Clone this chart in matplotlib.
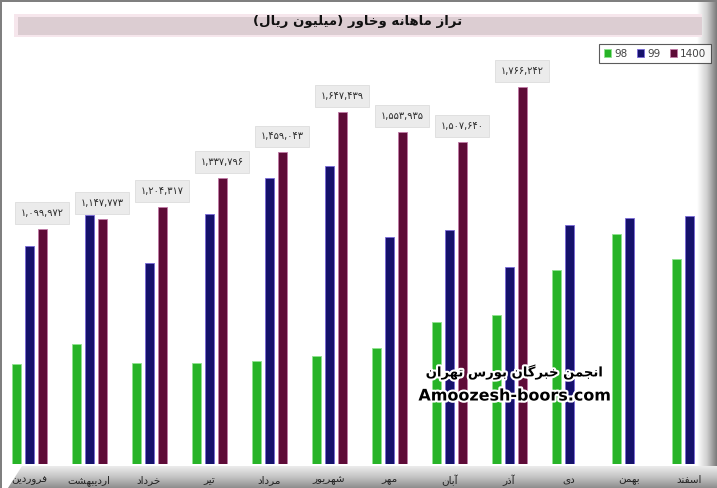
import numpy as np
import matplotlib
matplotlib.use('Agg')
import matplotlib.pyplot as plt
from matplotlib.patches import Polygon, Rectangle
import matplotlib.patheffects as pe
from matplotlib.colors import LinearSegmentedColormap

# ---------------- data ----------------
months = ['فروردین', 'اردیبهشت', 'خرداد', 'تیر', 'مرداد', 'شهریور',
          'مهر', 'آبان', 'آذر', 'دی', 'بهمن', 'اسفند']
s98 = [467000, 560000, 471000, 471000, 481000, 504000,
       542000, 664000, 696000, 907000, 1078000, 959000]
s99 = [1020000, 1165000, 940000, 1170000, 1339000, 1395000,
       1062000, 1094000, 922000, 1118000, 1151000, 1161000]
s1400 = [1099972, 1147773, 1204317, 1337796, 1459043, 1647439,
         1553935, 1507640, 1766242]
series_names = ['98', '99', '1400']
title = 'تراز ماهانه وخاور (میلیون ریال)'
wm1 = 'انجمن خبرگان بورس تهران'
wm2 = 'Amoozesh-boors.com'

# ---------------- minimal Persian shaping ----------------
FORMS = {
    'ا': ('\uFE8D', '\uFE8E', None, None),
    'آ': ('\uFE81', '\uFE82', None, None),
    'ب': ('\uFE8F', '\uFE90', '\uFE91', '\uFE92'),
    'پ': ('\uFB56', '\uFB57', '\uFB58', '\uFB59'),
    'ت': ('\uFE95', '\uFE96', '\uFE97', '\uFE98'),
    'ث': ('\uFE99', '\uFE9A', '\uFE9B', '\uFE9C'),
    'ج': ('\uFE9D', '\uFE9E', '\uFE9F', '\uFEA0'),
    'چ': ('\uFB7A', '\uFB7B', '\uFB7C', '\uFB7D'),
    'ح': ('\uFEA1', '\uFEA2', '\uFEA3', '\uFEA4'),
    'خ': ('\uFEA5', '\uFEA6', '\uFEA7', '\uFEA8'),
    'د': ('\uFEA9', '\uFEAA', None, None),
    'ذ': ('\uFEAB', '\uFEAC', None, None),
    'ر': ('\uFEAD', '\uFEAE', None, None),
    'ز': ('\uFEAF', '\uFEB0', None, None),
    'ژ': ('\uFB8A', '\uFB8B', None, None),
    'س': ('\uFEB1', '\uFEB2', '\uFEB3', '\uFEB4'),
    'ش': ('\uFEB5', '\uFEB6', '\uFEB7', '\uFEB8'),
    'ص': ('\uFEB9', '\uFEBA', '\uFEBB', '\uFEBC'),
    'ض': ('\uFEBD', '\uFEBE', '\uFEBF', '\uFEC0'),
    'ط': ('\uFEC1', '\uFEC2', '\uFEC3', '\uFEC4'),
    'ظ': ('\uFEC5', '\uFEC6', '\uFEC7', '\uFEC8'),
    'ع': ('\uFEC9', '\uFECA', '\uFECB', '\uFECC'),
    'غ': ('\uFECD', '\uFECE', '\uFECF', '\uFED0'),
    'ف': ('\uFED1', '\uFED2', '\uFED3', '\uFED4'),
    'ق': ('\uFED5', '\uFED6', '\uFED7', '\uFED8'),
    'ک': ('\uFB8E', '\uFB8F', '\uFB90', '\uFB91'),
    'گ': ('\uFB92', '\uFB93', '\uFB94', '\uFB95'),
    'ل': ('\uFEDD', '\uFEDE', '\uFEDF', '\uFEE0'),
    'م': ('\uFEE1', '\uFEE2', '\uFEE3', '\uFEE4'),
    'ن': ('\uFEE5', '\uFEE6', '\uFEE7', '\uFEE8'),
    'ه': ('\uFEE9', '\uFEEA', '\uFEEB', '\uFEEC'),
    'و': ('\uFEED', '\uFEEE', None, None),
    'ی': ('\uFBFC', '\uFBFD', '\uFBFE', '\uFBFF'),
}
MIRROR = {'(': ')', ')': '('}


def fa(text):
    out = []
    n = len(text)
    for i, ch in enumerate(text):
        f = FORMS.get(ch)
        if f is None:
            out.append(MIRROR.get(ch, ch))
            continue
        prev = text[i - 1] if i > 0 else None
        nxt = text[i + 1] if i < n - 1 else None
        jp = prev in FORMS and FORMS[prev][2] is not None
        jn = nxt in FORMS and f[2] is not None
        if jp and jn:
            out.append(f[3])
        elif jp:
            out.append(f[1])
        elif jn:
            out.append(f[2])
        else:
            out.append(f[0])
    return ''.join(reversed(out))


def fa_num(v):
    return f'{v:,}'.translate(str.maketrans('0123456789', '۰۱۲۳۴۵۶۷۸۹'))


# ---------------- figure ----------------
W, H = 717, 488
fig = plt.figure(figsize=(W / 100, H / 100), dpi=100)
fig.patch.set_facecolor('white')

# background decoration axes in pixel coordinates
bg = fig.add_axes([0, 0, 1, 1], zorder=0)
bg.set_xlim(0, W)
bg.set_ylim(H, 0)
bg.axis('off')

# right gradient band
grad_r = np.linspace(0, 1, 64).reshape(1, -1)
cm_r = LinearSegmentedColormap.from_list('r', ['#ffffff', '#d0d0d0', '#7a7a7a'])
bg.imshow(grad_r, cmap=cm_r, extent=[697, W, H, 0], aspect='auto', zorder=1)
# bottom gradient band with slanted left edge
grad_b = np.linspace(0, 1, 64).reshape(-1, 1)
cm_b = LinearSegmentedColormap.from_list('b', ['#ececec', '#c4c4c4', '#8e8e8e'])
im = bg.imshow(grad_b, cmap=cm_b, extent=[0, W, H, 466], aspect='auto', zorder=2)
clip = Polygon([(8, H), (22, 466), (W, 466), (W, H)], closed=True,
               transform=bg.transData, facecolor='none', edgecolor='none')
bg.add_patch(clip)
im.set_clip_path(clip)
bg.add_patch(Rectangle((0, 0), 1.5, H, facecolor='#7f7f7f', edgecolor='none', zorder=3))
bg.add_patch(Rectangle((0, 0), W, 1.5, facecolor='#7f7f7f', edgecolor='none', zorder=3))

# title band
bg.add_patch(Rectangle((14, 14), 688, 23, facecolor='#f6e6ec', edgecolor='none', zorder=3))
bg.add_patch(Rectangle((18, 17), 684, 18, facecolor='#dccdd2', edgecolor='none', zorder=4))
bg.text(358, 21, fa(title), ha='center', va='center', fontsize=9.5,
        fontweight='bold', color='#111111', family='DejaVu Sans', zorder=5)

# ---------------- main chart ----------------
zero_px = 463.5
top_px = 40
ymax = (zero_px - top_px) * 4690
ax = fig.add_axes([0, (H - zero_px) / H, 1, (zero_px - top_px) / H], zorder=2)
ax.patch.set_alpha(0)
x0 = -29 / 60
ax.set_xlim(x0, x0 + W / 60)
ax.set_ylim(0, ymax)

x = np.arange(len(months))
step = 13 / 60
bw = 9 / 60
colors = ['#27b327', '#15116b', '#5e0c37']
edges = ['#8fe38f', '#7a6ad8', '#c27aa8']
series = [s98, s99, s1400]
for k, (vals, c, ec, name) in enumerate(zip(series, colors, edges, series_names)):
    xs = x[:len(vals)] + (k - 1) * step
    ax.bar(xs, vals, width=bw, color=c, edgecolor=ec, linewidth=0.6,
           label=name, zorder=3)

# value labels on 1400 bars
for xi, v in zip(x[:len(s1400)] + step, s1400):
    ax.annotate(fa_num(v), xy=(xi, v), xytext=(0, 16), textcoords='offset pixels',
                ha='center', va='center', fontsize=7, color='#2a2a2a',
                family='DejaVu Sans', zorder=5,
                bbox=dict(boxstyle='square,pad=0.6', facecolor='#ebebeb',
                          edgecolor='#dddddd', linewidth=0.6))

ax.set_xticks(x)
ax.set_xticklabels([fa(m) for m in months], fontsize=7.5, color='#222222',
                   family='DejaVu Sans')
ax.tick_params(axis='x', length=0, pad=8)
ax.set_yticks([])
for s in ax.spines.values():
    s.set_visible(False)

leg = ax.legend(loc='upper right', bbox_to_anchor=(711 / W, 1 - 44 / H),
                bbox_transform=fig.transFigure, ncol=3, fontsize=7.5,
                frameon=True, fancybox=False, handlelength=0.7, handleheight=0.7,
                handletextpad=0.3, columnspacing=0.9, borderpad=0.45,
                borderaxespad=0)
leg.get_frame().set_edgecolor('#333333')
leg.get_frame().set_linewidth(0.8)
for t in leg.get_texts():
    t.set_color('#444444')

# watermark
stroke = [pe.withStroke(linewidth=3, foreground='white')]
fig.text(515 / W, 1 - 372 / H, fa(wm1), ha='center', va='center', fontsize=9.5,
         fontweight='bold', color='black', family='DejaVu Sans',
         path_effects=stroke, zorder=10)
fig.text(515 / W, 1 - 396 / H, wm2, ha='center', va='center', fontsize=11.5,
         fontweight='bold', color='black', family='DejaVu Sans',
         path_effects=stroke, zorder=10)

fig.savefig('out.png', dpi=100)
